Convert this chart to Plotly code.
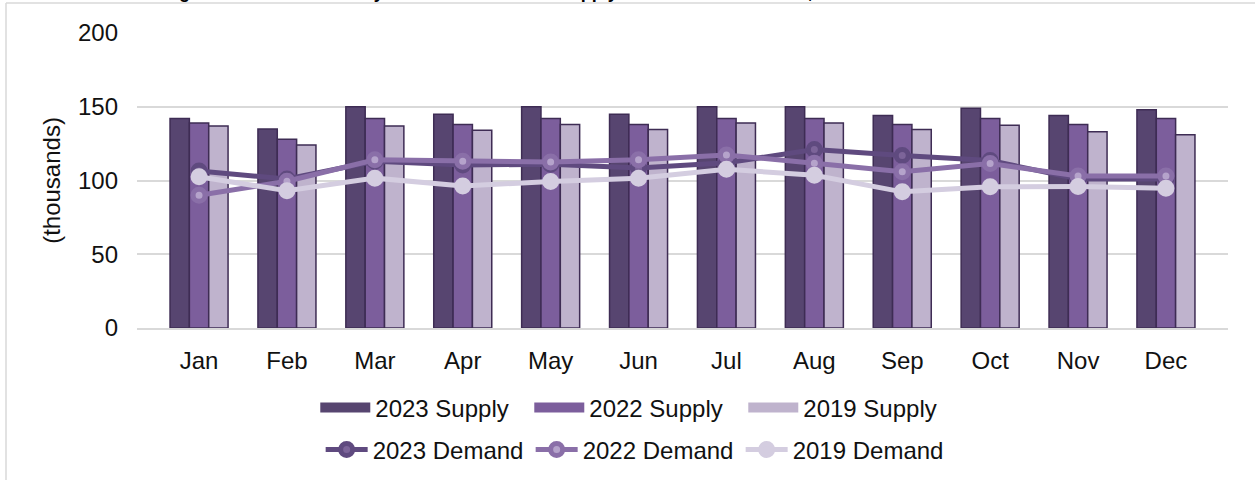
import plotly.graph_objects as go

months = ["Jan", "Feb", "Mar", "Apr", "May", "Jun", "Jul", "Aug", "Sep", "Oct", "Nov", "Dec"]

supply_2023 = [142, 135, 150, 145, 150, 145, 150, 150, 144, 149, 144, 148]
supply_2022 = [139, 128, 142, 138, 142, 138, 142, 142, 138, 142, 138, 142]
supply_2019 = [137, 124, 137, 134, 138, 134.5, 139, 139, 134.5, 137.5, 133, 131]

demand_2023 = [106.5, 101, 113, 110.5, 111, 108.5, 112, 121, 117, 113.5, 101, 101]
demand_2022 = [90, 99.5, 114, 113, 112.6, 114, 117.3, 111.7, 106, 111.5, 103, 103]
demand_2019 = [102.5, 93, 101.6, 96.3, 99.3, 101.6, 107.6, 103.6, 92.3, 95.7, 95.9, 94.8]

y_ticks = [0, 50, 100, 150, 200]

title_text = "Changes in the Total Monthly Room Demand and Supply in Hotels and Resorts, 2019 vs 2022 and 2023"

FONT = "Liberation Sans, Arial, sans-serif"
OUTLINE = "#3e2c54"

L, R, T, B = 137, 27, 33, 152
PW = 1255 - L - R
PH = 480 - T - B

fig = go.Figure()

bar_specs = [
    ("2023 Supply", supply_2023, "#574570"),
    ("2022 Supply", supply_2022, "#7c5e9c"),
    ("2019 Supply", supply_2019, "#bfb3cd"),
]
for name, vals, col in bar_specs:
    fig.add_trace(go.Bar(
        x=months, y=vals, name=name, showlegend=False,
        marker=dict(color=col, line=dict(color=OUTLINE, width=1.5)),
    ))
# legend proxies: wide swatches like the reference legend
for name, vals, col in bar_specs:
    fig.add_trace(go.Scatter(
        x=[None], y=[None], name=name, legend="legend", mode="lines",
        line=dict(color=col, width=10), hoverinfo="skip",
    ))

line_specs = [
    ("2023 Demand", demand_2023, "#5f4a7f", "#7c6499"),
    ("2022 Demand", demand_2022, "#8a6fa8", "#b5a3cb"),
    ("2019 Demand", demand_2019, "#d4cde0", "#d4cde0"),
]
for name, vals, col, inner in line_specs:
    fig.add_trace(go.Scatter(
        x=months, y=vals, name=name, legend="legend2",
        mode="lines+markers",
        line=dict(color=col, width=5),
        marker=dict(size=12, color=inner, line=dict(color=col, width=5)),
    ))

fig.update_layout(
    width=1255, height=480,
    margin=dict(l=L, r=R, t=T, b=B, autoexpand=False),
    paper_bgcolor="white", plot_bgcolor="white",
    font=dict(family=FONT, size=24, color="#111111"),
    barmode="group", bargap=0.34, bargroupgap=0,
    showlegend=True,
    legend=dict(
        orientation="h", xref="container", yref="container",
        x=0.507, xanchor="center", y=1 - 408 / 480, yanchor="middle",
        font=dict(size=24, color="#111111"), itemwidth=50,
        entrywidth=149, entrywidthmode="pixels",
        traceorder="normal", tracegroupgap=0,
    ),
    legend2=dict(
        orientation="h", xref="container", yref="container",
        x=0.5065, xanchor="center", y=1 - 450 / 480, yanchor="middle",
        font=dict(size=24, color="#111111"), itemwidth=42,
        entrywidth=153, entrywidthmode="pixels",
        traceorder="normal", tracegroupgap=0,
    ),
    xaxis=dict(
        showgrid=False, showline=True, linecolor="#d9d9d9", linewidth=2,
        ticks="", ticklabelstandoff=10, tickfont=dict(size=24),
        automargin=False,
    ),
    yaxis=dict(
        range=[0, 200], tickvals=y_ticks, showgrid=True,
        gridcolor="#d9d9d9", gridwidth=1.5, zeroline=False, showline=False,
        ticks="", ticklabelstandoff=18, tickfont=dict(size=24),
        title=dict(text="(thousands)", font=dict(size=24), standoff=10),
        automargin=False,
    ),
    shapes=[
        dict(type="line", xref="paper", yref="paper",
             x0=(6 - L) / PW, x1=(1300 - L) / PW,
             y0=1 + (T - 3) / PH, y1=1 + (T - 3) / PH,
             line=dict(color="#d9d9d9", width=1.5)),
        dict(type="line", xref="paper", yref="paper",
             x0=(6 - L) / PW, x1=(6 - L) / PW,
             y0=1 + (T - 3) / PH, y1=-200 / PH,
             line=dict(color="#d9d9d9", width=1.5)),
    ],
    annotations=[
        dict(text="<b>" + title_text + "</b>", xref="paper", yref="paper",
             x=(132 - L) / PW, y=1, xanchor="left", yanchor="bottom",
             yshift=T - 4, showarrow=False,
             font=dict(family=FONT, size=18, color="#000000")),
    ],
)

fig.write_html(
    "out.html",
    config={"displayModeBar": False},
    post_script="document.body.style.margin='0';document.body.style.overflow='hidden';",
)
